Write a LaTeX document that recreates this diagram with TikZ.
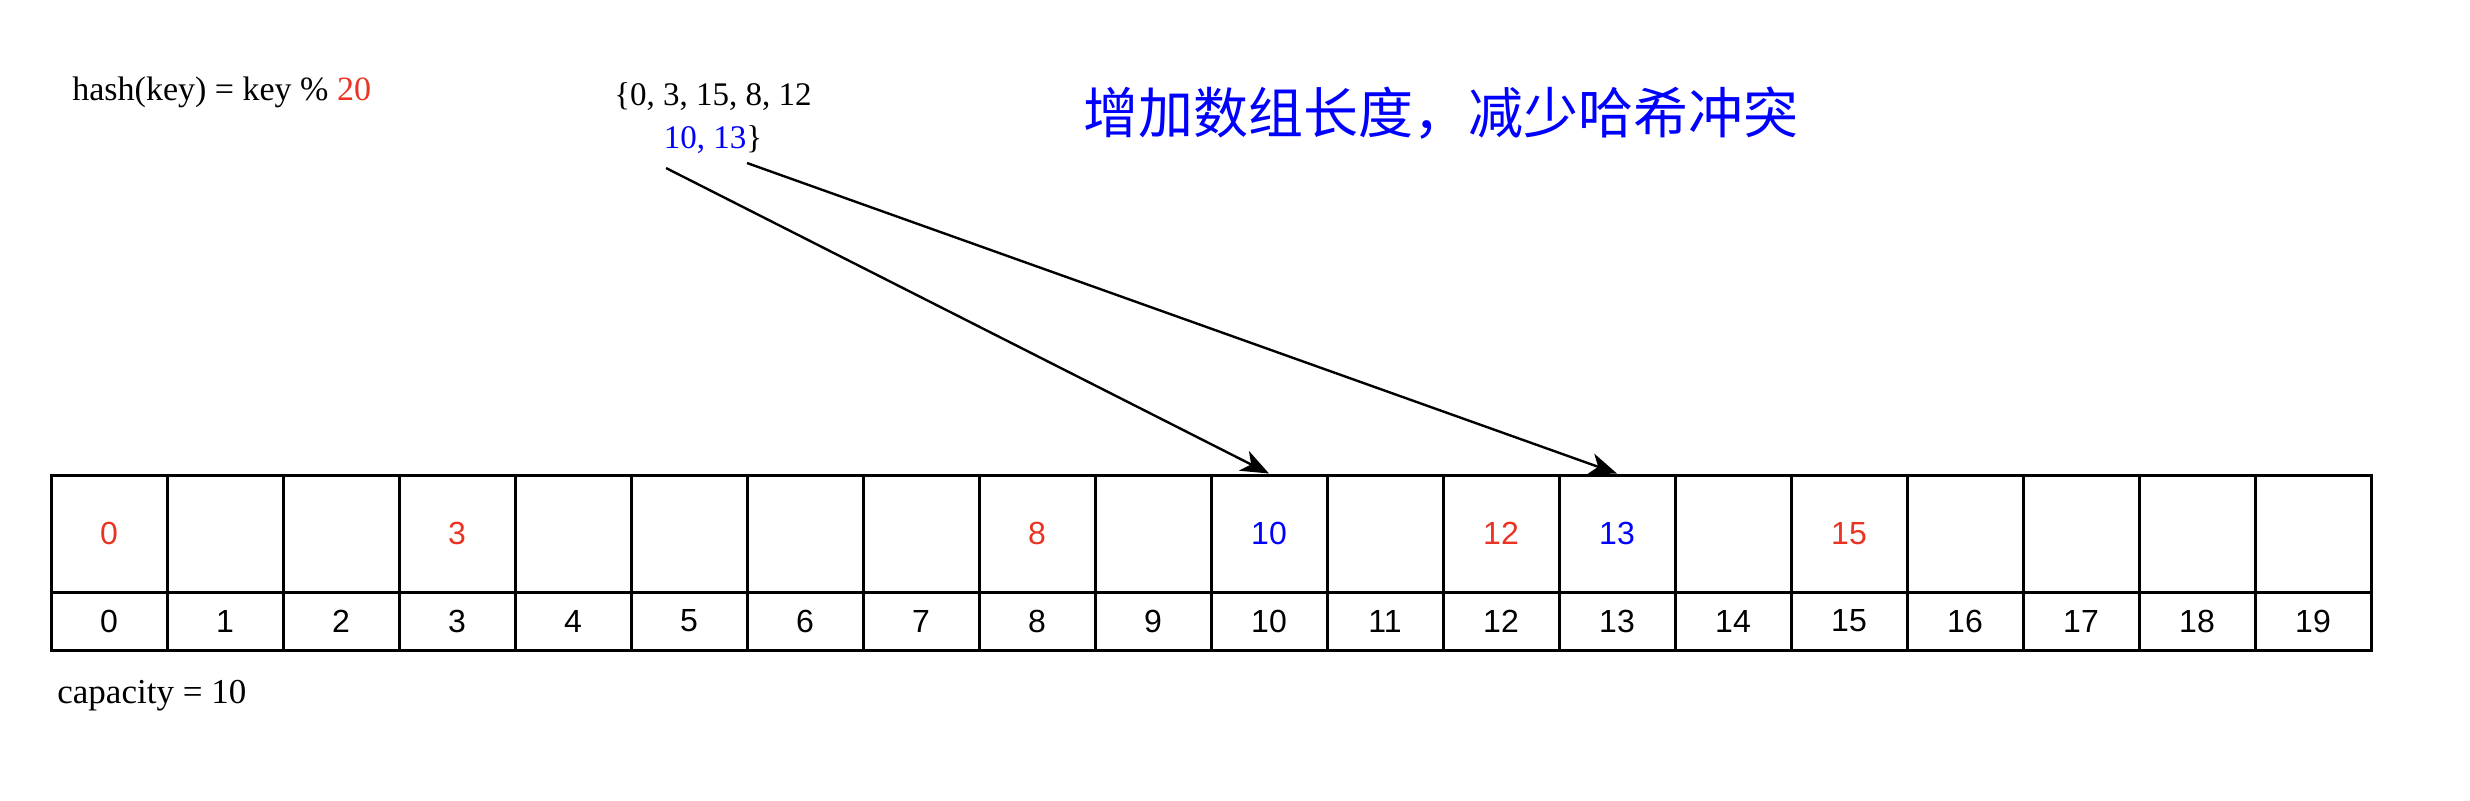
\documentclass[tikz,border=0pt]{standalone}
\usepackage{fontspec}
\setmainfont{Liberation Serif}
\setsansfont{Liberation Sans}
\newfontfamily\cjk{Noto Sans CJK SC}
\usetikzlibrary{arrows.meta}
\definecolor{hashred}{RGB}{234,51,35}
\begin{document}
\begin{tikzpicture}[x=0.5pt,y=-0.5pt,
    slot/.style={draw,line width=1.5pt,minimum width=58pt,minimum height=58.5pt,inner sep=0pt},
    idx/.style={draw,line width=1.5pt,minimum width=58pt,minimum height=29pt,inner sep=0pt,
      font=\sffamily\fontsize{16}{19}\selectfont},
    val/.style={font=\sffamily\fontsize{16}{19}\selectfont,inner sep=0pt},
    note/.style={font=\fontsize{17}{21.5}\selectfont,inner sep=0pt},
    link/.style={line width=1.2pt,-{Stealth[length=14pt,width=11pt,inset=4pt]}}]
      \useasboundingbox (0,0) rectangle (2470,800);
      % Hash function and key set
      \node[note,anchor=base west] (hashfn) at (72,100)
        {hash(key) = key \% \textcolor{hashred}{20}};
      \node[note,font=\fontsize{16.5}{21.5}\selectfont,align=center] (keys) at (713,118)
        {\{0, 3, 15, 8, 12\\\textcolor{blue}{10, 13}\}};
      % Title
      \node[inner sep=0pt,text=blue,font=\cjk\fontsize{27.5}{33}\selectfont]
        (title) at (1441,113) {增加数组长度，减少哈希冲突};
      % The array: slots and indices
      \foreach \i in {0,...,19}{
        \node[slot] (v\i) at ({109+116*\i},533.5) {};
        \node[idx] (k\i) at ({109+116*\i},621) {\i};
      }
      % Stored keys
      \foreach \i/\c in {0/hashred,3/hashred,8/hashred,10/blue,12/hashred,13/blue,15/hashred}{
        \node[val,text=\c] (t\i) at (v\i) {\i};
      }
      \node[note,font=\fontsize{17.5}{21.5}\selectfont,anchor=base west] (cap) at (57,703)
        {capacity = 10};
      % the new keys
      \coordinate (from10) at (666,168);
      \coordinate (from13) at (747,163);
      \draw[link] (from10) -- (v10.north);
      \draw[link] (from13) -- (v13.north);
    \end{tikzpicture}
\end{document}
